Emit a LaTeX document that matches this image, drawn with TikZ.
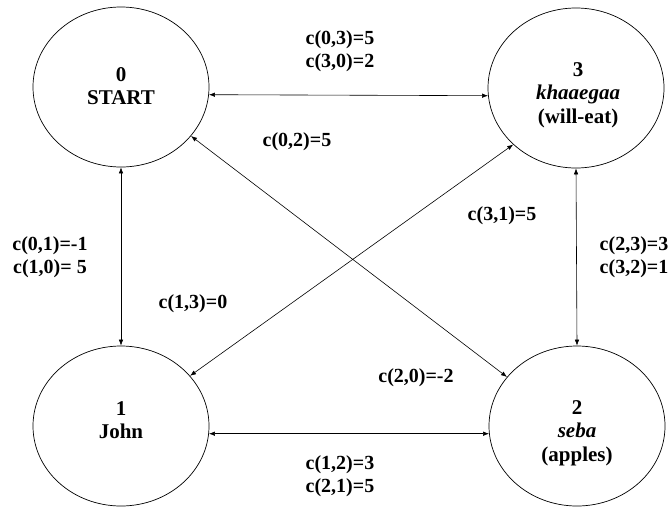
\documentclass[tikz,border=0pt]{standalone}
\usepackage{fontspec}
\setmainfont{Liberation Serif}
\usetikzlibrary{shapes.geometric,arrows.meta}
\begin{document}
\begin{tikzpicture}[x=1pt,y=-1pt,
  state/.style={draw,ellipse,line width=0.7pt,minimum width=176pt,minimum height=160pt,inner sep=0pt},
  txt/.style={align=center,inner sep=0pt,font=\fontsize{20}{23}\selectfont\bfseries},
  ntxt/.style={align=center,inner sep=0pt,font=\fontsize{21}{23.5}\selectfont\bfseries},
  conn/.style={{Latex[length=6pt,width=4.5pt]}-{Latex[length=6pt,width=4.5pt]},line width=0.6pt}]
\useasboundingbox (0,0) rectangle (671,509);
\node[state] (n0) at (121,87) {};
\node[state] (n3) at (576,88) {};
\node[state] (n1) at (121,426) {};
\node[state] (n2) at (577,426) {};
\node[ntxt] (t0) at (121,86) {0\\START};
\node[ntxt] (t3) at (578,95) {3\\\textit{khaaegaa}\\(will-eat)};
\node[ntxt] (t1) at (121,420) {1\\John};
\node[ntxt] (t2) at (577,433) {2\\\textit{seba}\\(apples)};
\draw[conn] (n0.-5) -- (n3.185);
\draw[conn] (n1.-5) -- (n2.185);
\draw[conn] (n0.south) -- (n1.north);
\draw[conn] (n3.south) -- (n2.north);
\draw[conn] (n0.-35) -- (n2.145);
\draw[conn] (n3.222) -- (n1.36);
\node[txt] (l03) at (340,51) {c(0,3)=5\\c(3,0)=2};
\node[txt] (l02) at (297,142) {c(0,2)=5};
\node[txt] (l01) at (50,257) {c(0,1)=-1\\c(1,0)= 5};
\node[txt] (l13) at (193,304) {c(1,3)=0};
\node[txt] (l31) at (502,216) {c(3,1)=5};
\node[txt] (l23) at (634,257) {c(2,3)=3\\c(3,2)=1};
\node[txt] (l20) at (416,378) {c(2,0)=-2};
\node[txt] (l12) at (340,476) {c(1,2)=3\\c(2,1)=5};
\end{tikzpicture}
\end{document}
